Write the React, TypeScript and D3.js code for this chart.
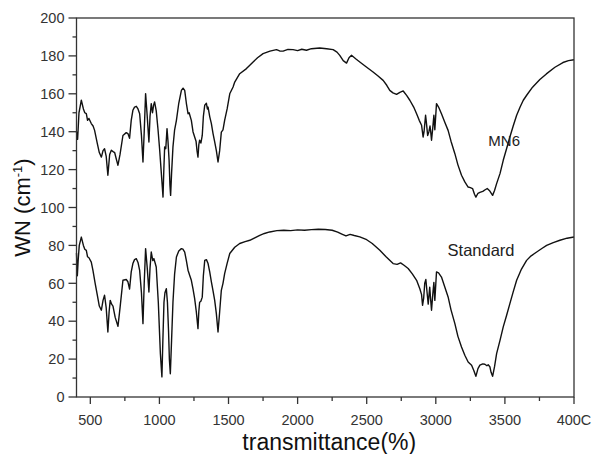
import React from "react";
import * as d3 from "d3";

const mn6: [number, number][] = [[400,140],[408,136],[418,150],[435,156.6],[450,152],[460,150],[471,149.5],[480,146],[490,147],[507,144.3],[520,143],[531,140.7],[550,134],[565,129],[580,126.6],[592,130],[603,131],[615,127],[627,117],[640,128],[652,130.2],[665,129.5],[676,129],[690,125],[700,122.3],[715,128],[736,138],[760,139.5],[772,139],[784,136.5],[796,146],[808,151.3],[820,153],[833,153.4],[845,152],[857,149.5],[870,138],[881,124],[890,140],[900,160.1],[910,150],[924,134.6],[932,148],[941,154.8],[950,150],[958,154],[965,155.7],[977,151],[990,141],[1002,130.2],[1012,120],[1021,110.8],[1026,105.5],[1032,120],[1038,132],[1046,131],[1055,141.6],[1062,135],[1070,125],[1076,112],[1081,106.4],[1088,118],[1098,132],[1110,141],[1123,146],[1140,155],[1159,161.8],[1171,163],[1183,161.8],[1195,155],[1207,149.5],[1215,150],[1231,146],[1243,140],[1255,137.2],[1265,135],[1272,130],[1279,126.6],[1285,133],[1291,135.5],[1300,134],[1310,138],[1318,148],[1328,154],[1340,155],[1347,152],[1352,153],[1364,148],[1376,144.3],[1388,139],[1400,134.6],[1412,130],[1424,124],[1436,130],[1448,139.8],[1460,141],[1472,146],[1490,152],[1509,160],[1533,163.6],[1545,166.2],[1581,170.6],[1630,173.3],[1678,176.8],[1710,179],[1750,181.2],[1800,182.5],[1847,183.3],[1870,182.6],[1895,182.5],[1930,183.4],[1967,183.3],[2000,182.8],[2030,183.5],[2064,183],[2100,183.8],[2160,184.2],[2210,183.8],[2257,183.3],[2285,182],[2305,180.3],[2330,177.5],[2354,176.2],[2372,179],[2390,180.3],[2420,178.5],[2450,176.8],[2500,174],[2546,171.5],[2580,169.5],[2619,167.1],[2645,164.5],[2667,161.8],[2690,160.5],[2716,159.7],[2740,160.8],[2764,161.5],[2790,159],[2812,156.6],[2840,153],[2861,149.5],[2880,146],[2897,143.4],[2908,137.2],[2915,140],[2926,148.7],[2933,144],[2941,138],[2950,140],[2958,143],[2963,140],[2969,135.5],[2978,142],[2986,148.7],[2993,141],[3005,154.8],[3020,153],[3041,149.5],[3065,145],[3089,140.7],[3110,135],[3138,128.4],[3160,122.5],[3186,117],[3210,113.5],[3234,110.8],[3250,110.5],[3266,110],[3280,107],[3290,105.5],[3305,107.5],[3319,108],[3340,108.5],[3360,109.5],[3372,110],[3391,108.7],[3411,106.4],[3425,109],[3440,112.6],[3465,118],[3488,124.9],[3512,131],[3536,137.2],[3560,143],[3585,148.7],[3610,153],[3633,156.6],[3660,159.5],[3700,163.5],[3753,167.5],[3800,170.5],[3862,174],[3920,176.5],[3960,177.5],[4000,178]];

const standard: [number, number][] = [[400,76],[406,64],[412,72],[420,80],[435,84.4],[450,80],[460,78],[471,77.4],[480,74],[490,73.5],[507,71.2],[519,66.8],[535,60],[550,54],[565,48],[580,45.8],[592,51],[603,53.7],[615,47],[627,34.3],[636,45],[644,51],[654,49],[664,48],[680,42],[700,37.3],[715,47],[736,61.6],[760,62],[772,60.8],[784,57],[796,66],[808,70.4],[820,72.5],[833,73],[845,71],[857,66.8],[870,55],[881,38.7],[890,60],[900,78.3],[912,68],[924,55.4],[932,68],[941,76.5],[952,72],[960,73],[968,71],[977,68.6],[992,50],[1007,22.9],[1018,10.6],[1025,30],[1033,50],[1040,55],[1050,57.2],[1058,50],[1066,35],[1072,20],[1079,12.3],[1088,30],[1098,50],[1110,65],[1123,73.9],[1140,77],[1159,78.3],[1170,78],[1183,76.5],[1195,72],[1207,66.9],[1220,64],[1231,61.6],[1243,57],[1255,51.9],[1267,45],[1279,36.1],[1285,45],[1291,50],[1300,50.5],[1310,52.7],[1318,64],[1328,72.1],[1340,72.5],[1352,70.4],[1364,66],[1376,60.8],[1388,56],[1400,51],[1412,44],[1424,34.3],[1436,45],[1448,56.3],[1460,60],[1472,65.1],[1490,70.5],[1509,75.7],[1545,79],[1581,81],[1620,82],[1654,82.7],[1690,84],[1726,85.3],[1760,86.3],[1798,87.1],[1850,87.8],[1900,88],[1950,87.8],[2000,88.2],[2050,88],[2100,88.3],[2150,88.5],[2200,88.4],[2250,88],[2290,87],[2320,86],[2350,85],[2380,85.8],[2410,85.2],[2450,84.5],[2500,83],[2540,81],[2595,77.4],[2640,74],[2691,70.4],[2720,70],[2745,70.8],[2770,69.5],[2800,67.8],[2830,65],[2861,61.6],[2885,57],[2897,54],[2904,48.4],[2912,52],[2920,60],[2928,62],[2937,55],[2945,49],[2950,53],[2956,58],[2962,52],[2969,45.8],[2978,54],[2986,60.5],[2993,51],[3005,66],[3020,65.5],[3041,63.3],[3065,58],[3089,52.8],[3110,46],[3138,38.7],[3160,32],[3186,26.4],[3210,22],[3234,18.5],[3259,16.8],[3275,14],[3290,10.9],[3305,15],[3319,16.8],[3340,17.5],[3355,17.3],[3370,16.5],[3379,17],[3391,16],[3400,13],[3411,10.9],[3425,16],[3440,22.9],[3465,30],[3488,37],[3512,43],[3536,49.3],[3560,55.5],[3585,61.6],[3620,67.5],[3657,72.1],[3690,74.5],[3730,76.5],[3770,78.5],[3802,80],[3850,81.5],[3898,82.7],[3950,83.8],[4000,84.4]];

const xTicks = [500, 1000, 1500, 2000, 2500, 3000, 3500, 4000];
const xTickLabels = ["500", "1000", "1500", "2000", "2500", "3000", "3500", "400C"];
const xMinor = [750, 1250, 1750, 2250, 2750, 3250, 3750];
const yTicks = [0, 20, 40, 60, 80, 100, 120, 140, 160, 180, 200];
const yMinor = [10, 30, 50, 70, 90, 110, 130, 150, 170, 190];

const W = 593, H = 454;
const L = 76.5, R = 574, T = 18, B = 397;

export default function App() {
  const x = d3.scaleLinear().domain([400, 4000]).range([L, R]);
  const y = d3.scaleLinear().domain([0, 200]).range([B, T]);
  const line = d3.line<[number, number]>().x(d => x(d[0])).y(d => y(d[1]));
  const axisColor = "#333";
  const font = "Liberation Sans, Arial, sans-serif";
  return (
    <svg width={W} height={H} style={{ position: "absolute", left: 0, top: 0, background: "#fff" }}>
      <rect x={0} y={0} width={W} height={H} fill="#fff" />
      <path d={line(mn6) || ""} fill="none" stroke="#111" strokeWidth={1.4} strokeLinejoin="round" />
      <path d={line(standard) || ""} fill="none" stroke="#111" strokeWidth={1.4} strokeLinejoin="round" />
      <rect x={L} y={T} width={R - L} height={B - T} fill="none" stroke={axisColor} strokeWidth={1.3} />
      {yTicks.map(t => (
        <g key={"y" + t}>
          <line x1={L - 8} x2={L} y1={y(t)} y2={y(t)} stroke={axisColor} strokeWidth={1.3} />
          <text x={L - 12} y={y(t)} dy="0.36em" textAnchor="end" fontSize={14.5} fontFamily={font} fill="#333">{t}</text>
        </g>
      ))}
      {yMinor.map(t => (
        <line key={"ym" + t} x1={L - 4} x2={L} y1={y(t)} y2={y(t)} stroke={axisColor} strokeWidth={1.3} />
      ))}
      {xTicks.map((t, i) => (
        <g key={"x" + t}>
          <line x1={x(t)} x2={x(t)} y1={B} y2={B + 7} stroke={axisColor} strokeWidth={1.3} />
          <text x={x(t)} y={B + 28} textAnchor="middle" fontSize={14.5} fontFamily={font} fill="#333">{xTickLabels[i]}</text>
        </g>
      ))}
      {xMinor.map(t => (
        <line key={"xm" + t} x1={x(t)} x2={x(t)} y1={B} y2={B + 4} stroke={axisColor} strokeWidth={1.3} />
      ))}
      <text x={x(3380)} y={y(132.5)} fontSize={15} fontFamily={font} fill="#222">MN6</text>
      <text x={x(3085)} y={y(74.4)} fontSize={16.5} fontFamily={font} fill="#222">Standard</text>
      <text x={(L + R) / 2 + 4} y={450} textAnchor="middle" fontSize={23} fontFamily={font} fill="#111">transmittance(%)</text>
      <text transform={`translate(30, ${(T + B) / 2}) rotate(-90)`} textAnchor="middle" fontSize={22} fontFamily={font} fill="#111">
        WN (cm<tspan dy="-8" fontSize={13}>-1</tspan><tspan dy="8">)</tspan>
      </text>
    </svg>
  );
}
